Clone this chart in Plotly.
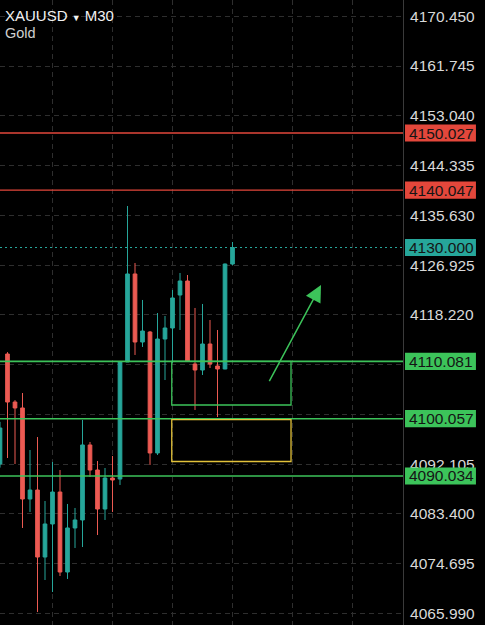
import plotly.graph_objects as go

# M30 candles, left to right (price units)
bar_idx = list(range(32))
opens = [4092.13, 4111.37, 4102.97, 4101.93, 4086.01, 4087.58, 4075.86, 4081.64,
         4087.23, 4073.24, 4080.94, 4082.34, 4095.46, 4091.08, 4084.26, 4089.68,
         4089.50, 4109.97, 4125.37, 4113.47, 4115.22, 4094.06, 4113.99, 4115.92,
         4121.69, 4124.14, 4109.62, 4108.57, 4113.12, 4109.27, 4108.75, 4127.11]
highs = [4099.50, 4111.70, 4103.30, 4104.55, 4094.58, 4096.85, 4085.66, 4092.48,
         4091.08, 4085.14, 4084.44, 4099.83, 4095.98, 4092.66, 4091.43, 4093.53,
         4110.00, 4137.26, 4127.29, 4120.82, 4115.40, 4118.54, 4118.02, 4122.57,
         4125.54, 4125.19, 4119.42, 4120.12, 4117.32, 4115.57, 4127.20, 4130.96]
lows = [4091.50, 4093.18, 4092.13, 4080.94, 4083.74, 4066.24, 4071.84, 4069.74,
        4072.54, 4072.02, 4077.44, 4077.61, 4089.86, 4079.71, 4082.34, 4083.74,
        4088.46, 4109.97, 4111.20, 4112.60, 4091.96, 4093.70, 4106.82, 4109.80,
        4115.57, 4109.97, 4101.58, 4107.70, 4108.92, 4100.35, 4108.70, 4126.90]
closes = [4098.43, 4102.97, 4101.93, 4086.01, 4087.58, 4075.86, 4081.64, 4087.23,
          4073.24, 4080.94, 4082.34, 4095.46, 4091.08, 4084.26, 4089.68, 4089.33,
          4109.97, 4125.37, 4113.47, 4115.39, 4094.06, 4113.99, 4115.92, 4121.17,
          4124.14, 4110.15, 4108.57, 4113.12, 4109.62, 4108.75, 4127.11, 4130.00]

last_price = 4130.000
red_levels = [4150.027, 4140.047]
green_levels = [4110.081, 4100.057, 4090.034]
axis_ticks = [4170.450, 4161.745, 4153.040, 4144.335, 4135.630, 4126.925, 4118.220,
              4109.515, 4100.810, 4092.105, 4083.400, 4074.695, 4065.990]
hidden_ticks = [4109.515, 4100.810]

# drawn zones: (x from, x to, price top, price bottom) in bar units
green_zone = (22.9, 38.8, 4110.081, 4102.45)
yellow_zone = (22.9, 38.8, 4099.90, 4092.57)
arrow_from = (35.8, 4106.35)
arrow_to = (42.8, 4123.44)

UP = "#26a69a"
DOWN = "#ec5a52"
RED = "#e3473b"
GREEN = "#3cc35a"
LABEL_FONT = "Liberation Sans, Arial, sans-serif"

fig = go.Figure(
    go.Candlestick(
        x=bar_idx, open=opens, high=highs, low=lows, close=closes,
        increasing={"line": {"color": UP, "width": 1}, "fillcolor": UP},
        decreasing={"line": {"color": DOWN, "width": 1}, "fillcolor": DOWN},
        whiskerwidth=0, showlegend=False,
    )
)

for level in red_levels:
    fig.add_shape(type="line", xref="paper", x0=0, x1=1, y0=level, y1=level,
                  line={"color": RED, "width": 1.3})
for level in green_levels:
    fig.add_shape(type="line", xref="paper", x0=0, x1=1, y0=level, y1=level,
                  line={"color": GREEN, "width": 1.6})
fig.add_shape(type="line", xref="paper", x0=0, x1=1, y0=last_price, y1=last_price,
              line={"color": UP, "width": 1.2, "dash": "2px,3px"})

for zone, color in [(green_zone, GREEN), (yellow_zone, "#e3c23a")]:
    fig.add_shape(type="rect", x0=zone[0], x1=zone[1], y0=zone[3], y1=zone[2],
                  line={"color": color, "width": 1.3}, fillcolor="rgba(0,0,0,0)")

fig.add_annotation(x=arrow_to[0], y=arrow_to[1], ax=arrow_from[0], ay=arrow_from[1],
                   xref="x", yref="y", axref="x", ayref="y", text="", showarrow=True,
                   arrowhead=2, arrowsize=2.2, arrowwidth=1.5, arrowcolor=GREEN)

# price tags on the right axis
tags = [(v, RED) for v in red_levels] + [(last_price, UP)] + [(v, GREEN) for v in green_levels]
for value, color in tags:
    fig.add_shape(type="rect", xref="paper", x0=1.005, x1=1.181, y0=value - 1.5, y1=value + 1.5,
                  fillcolor=color, line={"width": 0}, layer="above")
    fig.add_annotation(xref="paper", x=1.005, y=value, yref="y", xanchor="left", xshift=2,
                       text=f"{value:.3f}", showarrow=False,
                       font={"family": LABEL_FONT, "size": 15.5, "color": "#151515"})

fig.add_annotation(xref="paper", yref="paper", x=0, y=1, xanchor="left", yanchor="top",
                   xshift=3, yshift=-5, showarrow=False,
                   text="XAUUSD <span style='font-size:9px'>▼</span> M30",
                   font={"family": LABEL_FONT, "size": 15, "color": "#f2f2f2"})
fig.add_annotation(xref="paper", yref="paper", x=0, y=1, xanchor="left", yanchor="top",
                   xshift=3, yshift=-23, showarrow=False, text="Gold",
                   font={"family": LABEL_FONT, "size": 14.5, "color": "#d0d0d0"})

fig.update_layout(
    width=485, height=625,
    margin={"l": 0, "r": 82, "t": 0, "b": 0},
    paper_bgcolor="#000000", plot_bgcolor="#000000",
    xaxis={"range": [0, 53.73], "rangeslider": {"visible": False}, "showticklabels": False,
           "tickvals": [7, 15, 23, 31, 39, 47], "showgrid": True, "gridcolor": "#2e2e2e",
           "griddash": "5px,4px", "zeroline": False, "showline": False, "ticks": ""},
    yaxis={"range": [4063.97, 4173.29], "side": "right", "tickvals": axis_ticks,
           "ticktext": ["" if v in hidden_ticks else f"{v:.3f}" for v in axis_ticks],
           "showgrid": True, "gridcolor": "#2e2e2e", "griddash": "5px,4px",
           "zeroline": False, "showline": True, "linecolor": "#3a3a3a", "linewidth": 1,
           "ticks": "", "ticklabelstandoff": 3,
           "tickfont": {"family": LABEL_FONT, "size": 15.5, "color": "#d9d9d9"}},
)

# page body has a default 8px margin; drop it so the chart sits at the window edge
fig.write_html("out.html", config={"displayModeBar": False},
               post_script="document.body.style.margin='0';"
               "document.body.style.background='#000';")
